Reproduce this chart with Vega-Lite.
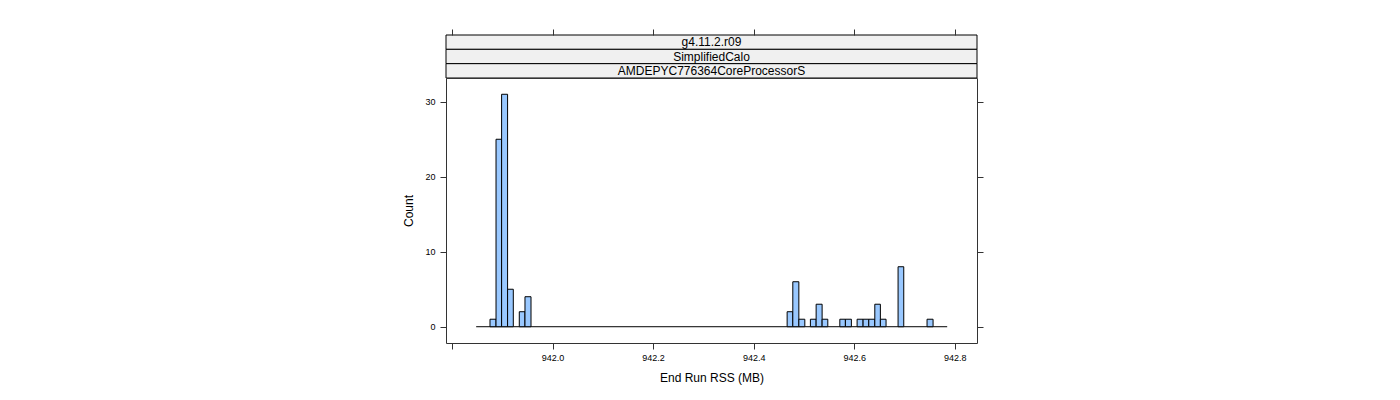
{
  "$schema": "https://vega.github.io/schema/vega-lite/v6.json",
  "padding": {"left": 402, "top": 28, "right": 5, "bottom": 5},
  "background": "white",
  "config": {
    "font": "Liberation Sans",
    "view": {"stroke": null},
    "axis": {"grid": false, "domain": false, "tickColor": "#333333", "tickWidth": 1, "tickSize": 6, "labelColor": "#000000", "titleColor": "#000000", "labelFont": "Liberation Sans", "titleFont": "Liberation Sans", "labelFontSize": 9, "titleFontSize": 12, "titleFontWeight": "normal"}
  },
  "datasets": {
    "bins": [
      {"bin_start": 941.8755, "bin_end": 941.8875, "count": 1},
      {"bin_start": 941.8875, "bin_end": 941.8986, "count": 25},
      {"bin_start": 941.8986, "bin_end": 941.9105, "count": 31},
      {"bin_start": 941.9105, "bin_end": 941.9219, "count": 5},
      {"bin_start": 941.9338, "bin_end": 941.9451, "count": 2},
      {"bin_start": 941.9451, "bin_end": 941.9571, "count": 4},
      {"bin_start": 942.4666, "bin_end": 942.4779, "count": 2},
      {"bin_start": 942.4779, "bin_end": 942.4899, "count": 6},
      {"bin_start": 942.4899, "bin_end": 942.5018, "count": 1},
      {"bin_start": 942.5129, "bin_end": 942.5243, "count": 1},
      {"bin_start": 942.5243, "bin_end": 942.5362, "count": 3},
      {"bin_start": 942.5362, "bin_end": 942.5475, "count": 1},
      {"bin_start": 942.5714, "bin_end": 942.5825, "count": 1},
      {"bin_start": 942.5825, "bin_end": 942.5944, "count": 1},
      {"bin_start": 942.6058, "bin_end": 942.6177, "count": 1},
      {"bin_start": 942.6177, "bin_end": 942.6290, "count": 1},
      {"bin_start": 942.6290, "bin_end": 942.6410, "count": 1},
      {"bin_start": 942.6410, "bin_end": 942.6521, "count": 3},
      {"bin_start": 942.6521, "bin_end": 942.6634, "count": 1},
      {"bin_start": 942.6873, "bin_end": 942.6986, "count": 8},
      {"bin_start": 942.7449, "bin_end": 942.7569, "count": 1}
    ],
    "range": [{"lo": 941.848, "hi": 942.785, "base": 0}],
    "strips": [
      {"level": 1, "label": "g4.11.2.r09"},
      {"level": 2, "label": "SimplifiedCalo"},
      {"level": 3, "label": "AMDEPYC776364CoreProcessorS"}
    ]
  },
  "spacing": 0,
  "bounds": "flush",
  "vconcat": [
    {
      "width": 531,
      "height": 43,
      "data": {"name": "strips"},
      "layer": [
        {
          "mark": {"type": "rect", "fill": "#f0f0f0", "stroke": "#000000", "strokeWidth": 1},
          "encoding": {"y": {"field": "level", "type": "ordinal", "axis": null, "scale": {"paddingInner": 0, "paddingOuter": 0}}}
        },
        {
          "mark": {"type": "text", "fontSize": 12, "color": "#000000", "font": "Liberation Sans"},
          "encoding": {"y": {"field": "level", "type": "ordinal", "axis": null}, "text": {"field": "label"}}
        }
      ]
    },
    {
      "width": 531,
      "height": 265,
      "view": {"stroke": "#333333", "strokeWidth": 1},
      "layer": [
        {
          "data": {"name": "range"},
          "mark": {"type": "rule", "color": "#000000", "strokeWidth": 1},
          "encoding": {
            "x": {"field": "lo", "type": "quantitative", "scale": {"domain": [941.788, 942.8443], "nice": false, "zero": false},
              "axis": {"orient": "bottom", "values": [941.8, 942.0, 942.2, 942.4, 942.6, 942.8], "labelExpr": "datum.value < 941.9 ? '' : format(datum.value, '.1f')", "labelPadding": 4, "title": "End Run RSS (MB)", "titlePadding": 10}},
            "x2": {"field": "hi"},
            "y": {"field": "base", "type": "quantitative", "scale": {"domain": [-2.17, 33.17], "nice": false, "zero": false},
              "axis": {"orient": "left", "values": [0, 10, 20, 30], "labelPadding": 5, "title": "Count", "titlePadding": 9}}
          }
        },
        {
          "data": {"name": "bins"},
          "mark": {"type": "rect", "fill": "#99c8ff", "stroke": "#000000", "strokeWidth": 1},
          "encoding": {
            "x": {"field": "bin_start", "type": "quantitative", "axis": null},
            "x2": {"field": "bin_end"},
            "y": {"field": "count", "type": "quantitative", "axis": null},
            "y2": {"datum": 0}
          }
        },
        {
          "data": {"name": "bins"},
          "mark": {"type": "point", "opacity": 0},
          "encoding": {
            "x": {"field": "bin_start", "type": "quantitative", "axis": {"orient": "top", "values": [941.8, 942.0, 942.2, 942.4, 942.6, 942.8], "labels": false, "title": null, "offset": 43}},
            "y": {"field": "count", "type": "quantitative", "axis": {"orient": "right", "values": [0, 10, 20, 30], "labels": false, "title": null}}
          }
        }
      ],
      "resolve": {"axis": {"x": "independent", "y": "independent"}}
    }
  ]
}
